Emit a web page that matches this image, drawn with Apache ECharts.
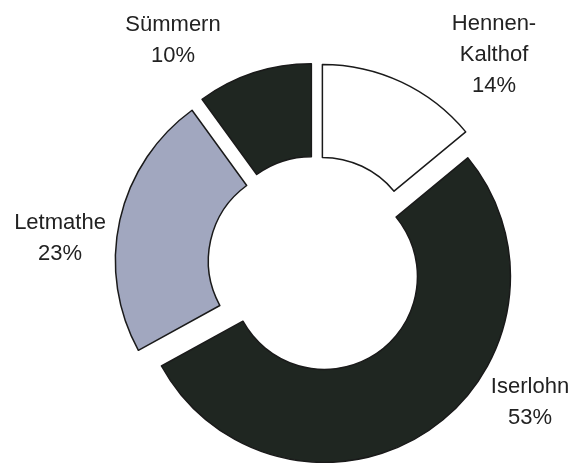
<!DOCTYPE html>
<html>
<head>
<meta charset="utf-8">
<script src="https://cdn.jsdelivr.net/npm/echarts@6/dist/echarts.min.js"></script>
<style>
  html, body { margin: 0; padding: 0; background: #ffffff; }
  #chart { width: 574px; height: 463px; }
</style>
</head>
<body>
<div id="chart"></div>
<script>
// Share of each district (percent)
const districts = ['Hennen-Kalthof', 'Iserlohn', 'Letmathe', 'Sümmern'];
const shares = [14, 53, 23, 10];

// Fill colour per district
const fills = ['#ffffff', '#1f2621', '#a1a7bf', '#1f2621'];
// Centre of each label's text block
const labelSpots = [[494, 55], [530, 402], [60, 238], [173, 40]];

const chart = echarts.init(document.getElementById('chart'), null, { renderer: 'canvas' });

const total = shares.reduce((a, b) => a + b, 0);

const data = districts.map((name, i) => ({
  name: name,
  value: shares[i],
  selected: true,
  itemStyle: { color: fills[i] },
  select: { itemStyle: { color: fills[i], borderColor: '#1a1a1a', borderWidth: 1.5 } }
}));

// District name (broken after the hyphen) above its share
const labels = districts.map((name, i) => ({
  type: 'text',
  x: labelSpots[i][0],
  y: labelSpots[i][1],
  silent: true,
  style: {
    text: name.replace('-', '-\n') + '\n' + Math.round(shares[i] / total * 100) + '%',
    fontFamily: '"Liberation Sans", Arial, sans-serif',
    fontSize: 22,
    lineHeight: 31,
    fill: '#222222',
    align: 'center',
    verticalAlign: 'middle'
  }
}));

chart.setOption({
  animation: false,
  backgroundColor: '#ffffff',
  graphic: labels,
  series: [{
    type: 'pie',
    center: [316, 264],
    radius: [93, 186],
    startAngle: 90,
    clockwise: true,
    selectedMode: 'multiple',
    selectedOffset: 15,
    silent: true,
    itemStyle: { borderColor: '#1a1a1a', borderWidth: 1.5 },
    emphasis: { disabled: true },
    label: { show: false },
    labelLine: { show: false },
    data: data
  }]
});
</script>
</body>
</html>
